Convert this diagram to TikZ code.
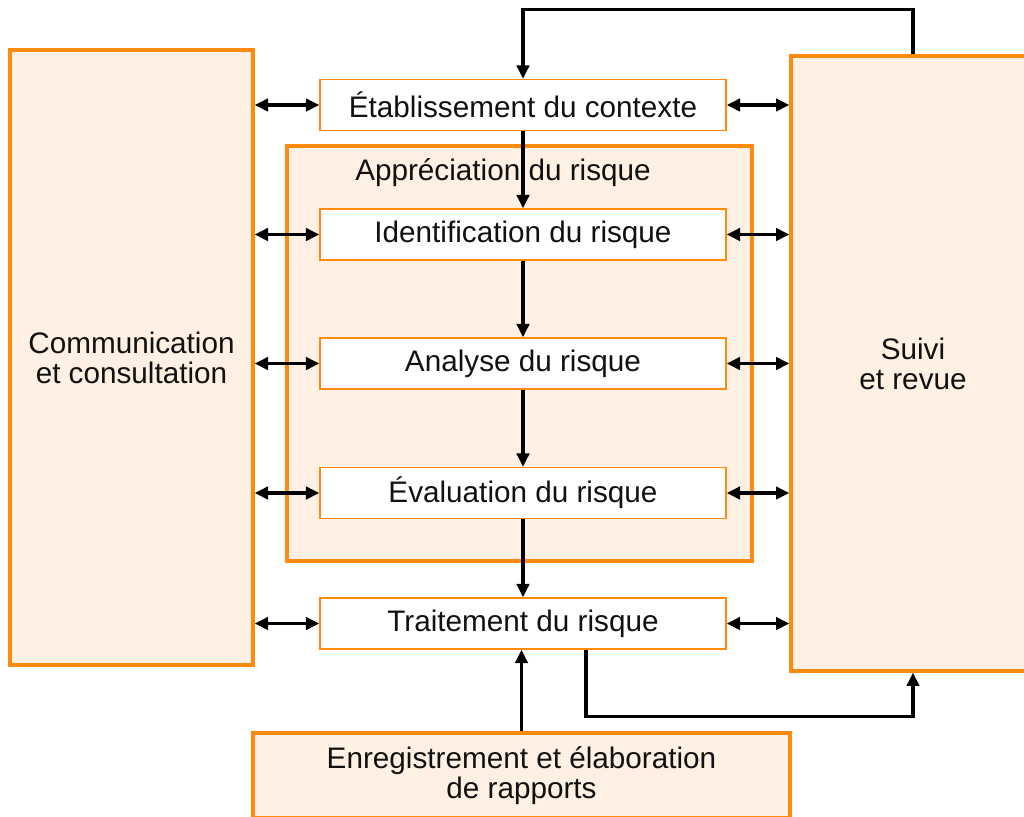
\documentclass[tikz,border=0pt]{standalone}
\usepackage{fontspec}
\setmainfont{Liberation Sans}
\usetikzlibrary{arrows.meta, positioning}
\definecolor{isoorange}{HTML}{FF8A0D}
\definecolor{isocream}{HTML}{FEF0E2}
\definecolor{txtdark}{HTML}{111111}

\begin{document}
\begin{tikzpicture}[
  x=0.02cm, y=-0.02cm,
  >={Triangle[length=7.6pt, width=7pt]},
  bigbox/.style={
    draw=isoorange, line width=1.9pt, fill=isocream,
    align=center, text=txtdark, inner sep=0pt
  },
  stepbox/.style={
    draw=isoorange, line width=0.8pt, fill=white,
    minimum width=8.12cm, minimum height=1.02cm,
    text=txtdark, inner sep=0pt
  },
  arr/.style={->, line width=1.9pt, black},
  biarr/.style={<->, line width=1.9pt, black},
  font=\fontsize{16.9}{17.2}\selectfont,
]

% Frame of the picture
\useasboundingbox (0,0) rectangle (1024,816);

% Side boxes
\node[bigbox, minimum width=4.86cm, minimum height=12.3cm] (comm) at (131.5,357.5)
  {Communication\\et consultation};
\node[bigbox, minimum width=4.88cm, minimum height=12.3cm] (suivi) at (913,363.5)
  {Suivi\\et revue};

% Bottom box
\node[bigbox, minimum width=10.74cm, minimum height=1.7cm] (enreg) at (521.5,775.5)
  {Enregistrement et élaboration\\de rapports};

% Risk assessment region
\node[bigbox, minimum width=9.3cm, minimum height=8.3cm] (apprec) at (519.5,353.5) {};
\node[text=txtdark] (appreclbl) at (503,173) {Appréciation du risque};

% Process steps
\node[stepbox] (etab)  at (523,105)   {Établissement du contexte};
\node[stepbox] (ident) at (523,234.5) {Identification du risque};
\node[stepbox] (anal)  at (523,363.5) {Analyse du risque};
\node[stepbox] (eval)  at (523,493)   {Évaluation du risque};
\node[stepbox] (trait) at (523,623.5) {Traitement du risque};

% Main flow
\draw[arr] (etab.south) -- (ident.north);
\draw[arr] (ident.south) -- (anal.north);
\draw[arr] (anal.south) -- (eval.north);
\draw[arr] (eval.south) -- (trait.north);
\draw[arr] (enreg.north) -- (enreg.north |- trait.south);

% Links to communication and review
\foreach \s in {etab, ident, anal, eval, trait} {
  \draw[biarr] (\s.west -| comm.east) -- (\s.west);
  \draw[biarr] (\s.east) -- (\s.east -| suivi.west);
}

% Feedback loops
\draw[arr] (suivi.north) -- ++(0,-45) -| (etab.north);
\draw[arr] ([xshift=1.26cm]trait.south) -- ++(0,67) -| (suivi.south);

\end{tikzpicture}
\end{document}
